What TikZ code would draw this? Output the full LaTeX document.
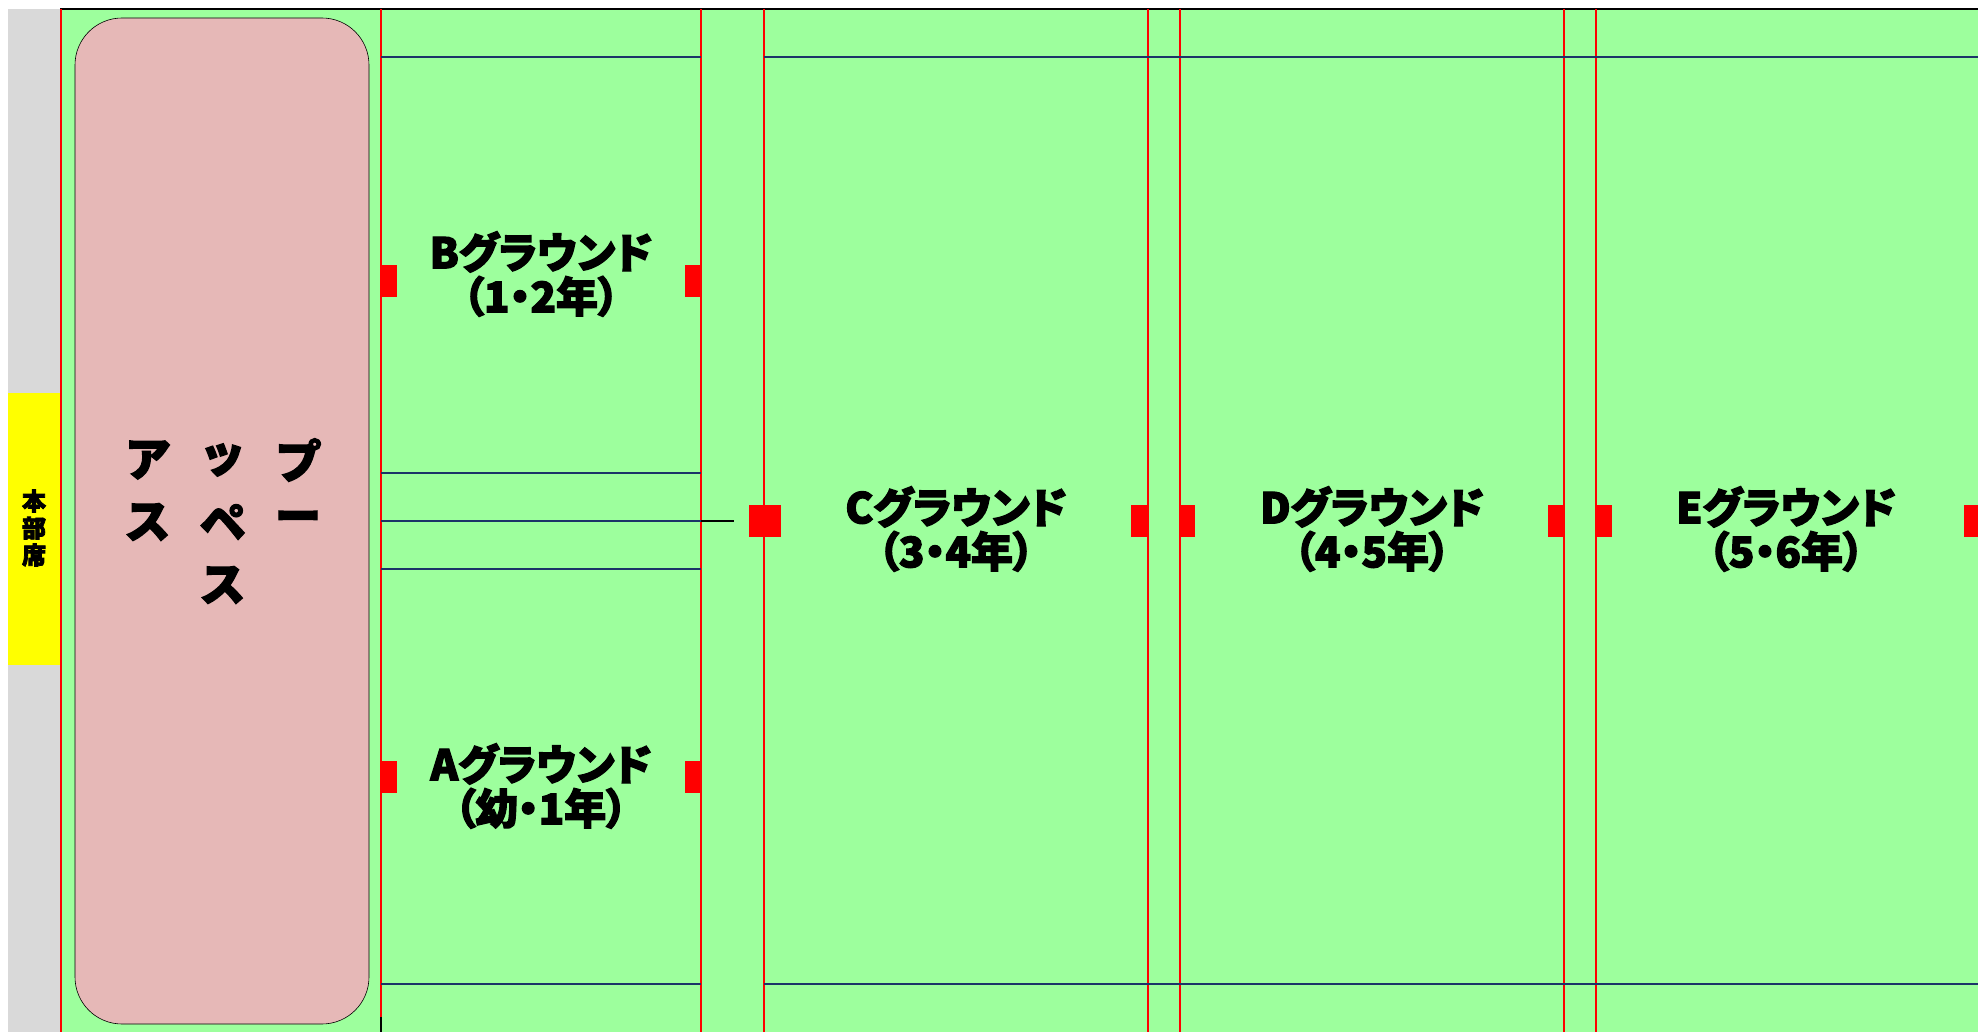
\documentclass[tikz,border=0pt]{standalone}
\usepackage{fontspec}
\newfontfamily\jpfont[BoldFeatures={FakeBold=3},RawFeature={+palt}]{Noto Sans CJK JP}
\definecolor{groundgreen}{RGB}{157,255,157}
\definecolor{upspink}{RGB}{230,184,183}
\definecolor{sidegray}{RGB}{217,217,217}
\definecolor{honbuyellow}{RGB}{255,255,0}
\definecolor{linenavy}{RGB}{28,52,104}
\newcommand{\myfontground}{\jpfont\bfseries\fontsize{21}{22}\selectfont}
\newcommand{\myfontups}{\jpfont\bfseries\fontsize{23}{26}\selectfont}
\newcommand{\myfonthonbu}{\jpfont\bfseries\fontsize{12}{13.5}\selectfont}
\begin{document}
\begin{tikzpicture}[x=0.5pt,y=-0.5pt,
	redline/.style={red,line width=1pt},
	navyline/.style={linenavy,line width=1pt},
	redtab/.style={fill=red,draw=none},
	groundlabel/.style={inner sep=0pt,align=center,font=\myfontground}]
			%Page size
			\useasboundingbox (0,0) rectangle (1978,1032);
			%Side strip and the grounds
			\fill[sidegray] (8,9) rectangle (60,1032);
			\fill[honbuyellow] (8,393) rectangle (60,665);
			\fill[groundgreen] (60,9) rectangle (1978,1032);
			\draw[black,line width=1pt] (60,9) -- (1978,9);
			%Up space
			\draw[fill=upspink,line width=0.3pt,rounded corners=23.5pt] (75,18) rectangle (369,1024);
			%Red lines between the grounds
			\foreach \x in {61,381,701,764,1148,1180,1564,1596} {
				\draw[redline] (\x,9) -- (\x,1032);
			}
			%Navy lines
			\draw[navyline] (381,57) -- (701,57);
			\draw[navyline] (764,57) -- (1978,57);
			\draw[navyline] (381,473) -- (701,473);
			\draw[navyline] (381,521) -- (701,521);
			\draw[navyline] (381,569) -- (701,569);
			\draw[navyline] (381,984) -- (701,984);
			\draw[navyline] (764,984) -- (1978,984);
			%Small black lines
			\draw[black,line width=0.8pt] (701,521) -- (734,521);
			\draw[black,line width=0.8pt] (381,1017) -- (381,1032);
			%Red marks on the lines
			\foreach \xa/\xb/\ya in {381/397/265,685/701/265,381/397/761,685/701/761,749/781/505,1131/1148/505,1180/1195/505,1548/1564/505,1596/1612/505,1964/1978/505} {
				\fill[redtab] (\xa,\ya) rectangle (\xb,\ya+32);
			}
			%Honbu seat
			\coordinate (centerHonbu) at (34,528);
			\node [inner sep=0pt,align=center,font=\myfonthonbu] (honbu) at (centerHonbu) {本\\部\\席};
			%Up space text
			\foreach \ch/\cx/\cy [count=\i] in {ア/148/460,ッ/223/460,プ/298/460,ス/148/522,ペ/223/522,ー/298/522,ス/223/585} {
				\node [inner sep=0pt,font=\myfontups] (ups\i) at (\cx,\cy) {\ch};
			}
			%Grounds
			\coordinate (centerB) at (541,274);
			\node [groundlabel] (groundB) at (centerB) {Bグラウンド\\（1・2年）};
			\coordinate (centerA) at (541,786);
			\node [groundlabel] (groundA) at (centerA) {Aグラウンド\\（幼・1年）};
			\coordinate (centerC) at (956,529);
			\node [groundlabel] (groundC) at (centerC) {Cグラウンド\\（3・4年）};
			\coordinate (centerD) at (1372,529);
			\node [groundlabel] (groundD) at (centerD) {Dグラウンド\\（4・5年）};
			\coordinate (centerE) at (1786,529);
			\node [groundlabel] (groundE) at (centerE) {Eグラウンド\\（5・6年）};
\end{tikzpicture}
\end{document}
